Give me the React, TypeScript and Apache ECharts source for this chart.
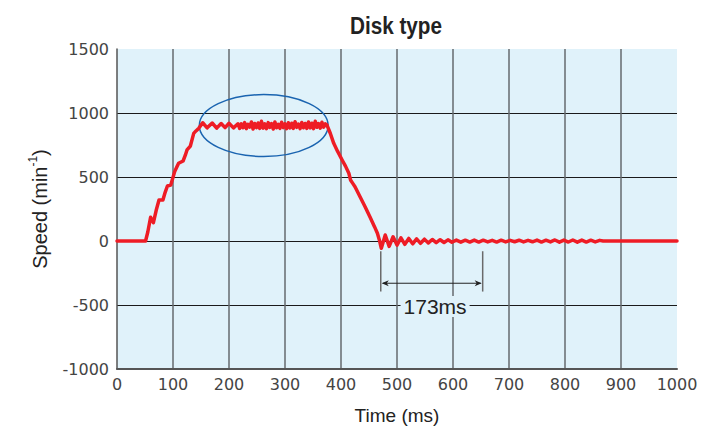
import React, { useEffect, useRef } from "react";
import * as echarts from "echarts";

// ---- data ----
const timeMs: number[] = [
  0, 51, 55, 60, 65, 70, 75, 82, 86, 90, 96, 103, 107, 110, 118, 122, 125, 131, 137, 141, 146, 153,
  161, 170, 178, 186, 193, 200, 208, 216,
  219, 222, 225, 228, 231, 234, 237, 240, 243, 246, 249, 252, 255, 258, 261, 264, 267, 270, 273, 276,
  279, 282, 285, 288, 291, 294, 297, 300, 303, 306, 309, 312, 315, 318, 321, 324, 327, 330, 333, 336,
  339, 342, 345, 348, 351, 354, 357, 360, 363, 366, 369, 372,
  375, 381, 387, 394, 402, 408, 414, 417, 421, 425, 434, 443, 452, 460, 465, 469,
  472, 479, 486, 493, 500, 507, 514, 521, 528, 535, 542, 549, 556, 563, 570, 577, 584, 591, 598,
  606, 614, 622, 630, 638, 646, 654, 662, 670, 678, 686, 694, 702, 710, 718, 726, 734, 742, 750,
  758, 766, 774, 782, 790, 798, 806, 814, 822, 830, 838, 846, 854, 862, 868, 1000,
];
const speed: number[] = [
  0, 0, 70, 185, 143, 240, 320, 320, 380, 430, 437, 542, 580, 607, 625, 670, 711, 742, 841, 860, 880, 924,
  884, 922, 882, 918, 886, 920, 884, 916,
  880, 915, 885, 925, 878, 912, 890, 930, 875, 918, 885, 922, 880, 935, 882, 915, 878, 925, 888, 918,
  875, 930, 885, 912, 880, 928, 886, 916, 878, 924, 884, 920, 880, 932, 888, 914, 878, 926, 885, 918,
  880, 930, 884, 920, 878, 935, 888, 918, 882, 928, 890, 915,
  906, 840, 763, 700, 633, 585, 529, 477, 450, 424, 345, 268, 185, 110, 60, 0,
  -57, 47, -42, 33, -32, 25, -26, 20, -22, 16, -18, 14, -15, 12, -13, 10, -12, 9, -10,
  7, -9, 6, -8, 7, -8, 6, -7, 5, -8, 6, -7, 5, -6, 6, -7, 5, -6, 7,
  -8, 6, -7, 8, -9, 7, -8, 8, -9, 7, -8, 6, -7, 5, 0, 0,
];
const xTickValues = [0, 100, 200, 300, 400, 500, 600, 700, 800, 900, 1000];
const yTickValues = [-1000, -500, 0, 500, 1000, 1500];

// annotation (data units)
const ellipseCenter = [262, 902];
const ellipseHalf = [115, 242];
const spanStart = 471;
const spanEnd = 653;
const spanLabel = "173ms";

export default function App() {
  const ref = useRef<HTMLDivElement>(null);

  useEffect(() => {
    const chart = echarts.init(ref.current!, null, { renderer: "svg" });
    const data = timeMs.map((t, i) => [t, speed[i]]);
    const labelFont = "'DejaVu Sans', sans-serif";
    const nameFont = "'Liberation Sans', Arial, sans-serif";

    chart.setOption({
      animation: false,
      backgroundColor: "#ffffff",
      grid: {
        left: 117,
        right: 45,
        top: 49,
        bottom: 61,
        show: true,
        backgroundColor: "#e0f2fa",
        borderWidth: 0,
      },
      xAxis: {
        type: "value",
        min: xTickValues[0],
        max: xTickValues[xTickValues.length - 1],
        interval: 100,
        name: "Time (ms)",
        nameLocation: "middle",
        nameGap: 37,
        nameTextStyle: { fontFamily: nameFont, fontSize: 19, color: "#222" },
        axisLine: { show: true, onZero: false, lineStyle: { color: "#555", width: 2 } },
        axisTick: { show: false },
        axisLabel: {
          fontFamily: labelFont,
          fontSize: 16,
          color: "#444",
          margin: 7,
          formatter: (v: number) => String(v),
        },
        splitLine: {
          show: true,
          lineStyle: {
            color: ["rgba(0,0,0,0)", "#666a6e", "#666a6e", "#666a6e", "#666a6e", "#666a6e", "#666a6e", "#666a6e", "#666a6e", "#666a6e", "rgba(0,0,0,0)"],
            width: 1.5,
          },
        },
      },
      yAxis: {
        type: "value",
        min: yTickValues[0],
        max: yTickValues[yTickValues.length - 1],
        interval: 500,
        name: "Speed (min{sup|-1})",
        nameLocation: "middle",
        nameGap: 64,
        nameRotate: 90,
        nameTextStyle: {
          fontFamily: nameFont,
          fontSize: 20,
          color: "#222",
          rich: {
            sup: { fontFamily: nameFont, fontSize: 12, color: "#222", verticalAlign: "top", lineHeight: 26 },
          },
        },
        axisLine: { show: true, lineStyle: { color: "#555", width: 1.5 } },
        axisTick: { show: false },
        axisLabel: {
          fontFamily: labelFont,
          fontSize: 16,
          color: "#444",
          margin: 8,
          formatter: (v: number) => String(v),
        },
        splitLine: {
          show: true,
          lineStyle: {
            color: ["rgba(0,0,0,0)", "#1a1a1a", "#1a1a1a", "#1a1a1a", "#1a1a1a", "rgba(0,0,0,0)"],
            width: 1,
          },
        },
      },
      series: [
        {
          type: "line",
          data,
          showSymbol: false,
          symbol: "none",
          z: 2,
          lineStyle: { color: "#ee1c25", width: 3.5, join: "round", cap: "round" },
        },
      ],
    });

    const p = (t: number, v: number) => chart.convertToPixel({ gridIndex: 0 }, [t, v]) as number[];
    const c = p(ellipseCenter[0], ellipseCenter[1]);
    const e = p(ellipseCenter[0] + ellipseHalf[0], ellipseCenter[1] + ellipseHalf[1]);
    const rx = e[0] - c[0];
    const ry = c[1] - e[1];
    const s0 = p(spanStart, -80);
    const s0b = p(spanStart, -395);
    const s1 = p(spanEnd, -80);
    const s1b = p(spanEnd, -395);
    const a0 = p(spanStart, -330);
    const a1 = p(spanEnd, -330);
    const lab = p(568, -512);
    const ay = a0[1];

    chart.setOption({
      graphic: [
        {
          type: "text",
          x: 396,
          y: 26,
          scaleX: 0.9,
          style: {
            text: "Disk type",
            font: "bold 23px 'Liberation Sans', Arial, sans-serif",
            fill: "#222",
            textAlign: "center",
            textVerticalAlign: "middle",
          },
        },
        {
          type: "ellipse",
          z: 1,
          shape: { cx: c[0], cy: c[1], rx, ry },
          style: { fill: "none", stroke: "#1a64b0", lineWidth: 1.5 },
        },
        {
          type: "line",
          z: 5,
          shape: { x1: s0[0], y1: s0[1], x2: s0b[0], y2: s0b[1] },
          style: { stroke: "#6a6a6a", lineWidth: 1.5 },
        },
        {
          type: "line",
          z: 5,
          shape: { x1: s1[0], y1: s1[1], x2: s1b[0], y2: s1b[1] },
          style: { stroke: "#6a6a6a", lineWidth: 1.5 },
        },
        {
          type: "line",
          z: 5,
          shape: { x1: a0[0] + 2, y1: ay, x2: a1[0] - 2, y2: ay },
          style: { stroke: "#222", lineWidth: 1 },
        },
        {
          type: "polygon",
          z: 5,
          shape: { points: [[a0[0] + 1, ay], [a0[0] + 8, ay - 3], [a0[0] + 6, ay], [a0[0] + 8, ay + 3]] },
          style: { fill: "#222" },
        },
        {
          type: "polygon",
          z: 5,
          shape: { points: [[a1[0] - 1, ay], [a1[0] - 8, ay - 3], [a1[0] - 6, ay], [a1[0] - 8, ay + 3]] },
          style: { fill: "#222" },
        },
        {
          type: "text",
          z: 6,
          x: lab[0],
          y: lab[1],
          style: {
            text: spanLabel,
            font: "21px 'Liberation Sans', Arial, sans-serif",
            fill: "#222",
            textAlign: "center",
            textVerticalAlign: "middle",
            backgroundColor: "#e0f2fa",
            padding: [0, 3, 0, 3],
          },
        },
      ],
    });

    return () => chart.dispose();
  }, []);

  return (
    <div
      ref={ref}
      style={{ position: "absolute", left: 0, top: 0, width: 722, height: 430 }}
    />
  );
}
